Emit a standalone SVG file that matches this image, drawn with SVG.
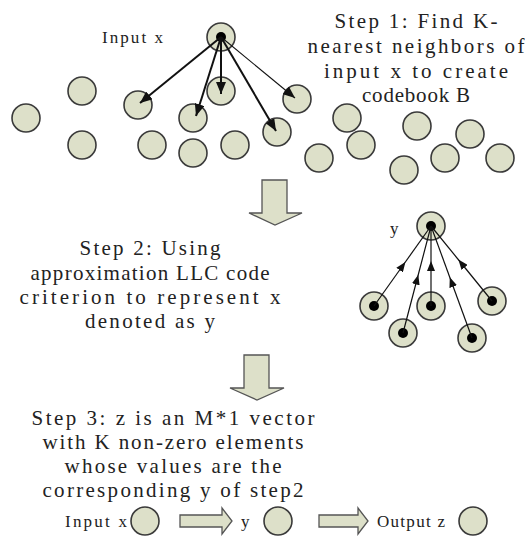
<svg xmlns="http://www.w3.org/2000/svg" width="525" height="536" viewBox="0 0 525 536">
<style>
.n{fill:#dde0c9;stroke:#3a3a3a;stroke-width:1.6}
.d{fill:#000}
.ba{fill:#dde0c9;stroke:#555;stroke-width:1.3}
.t{font-family:"Liberation Serif","DejaVu Serif",serif;font-size:21px;fill:#222}
.s{font-family:"Liberation Serif","DejaVu Serif",serif;font-size:17px;fill:#222}
.e1{stroke:#111;stroke-width:2;fill:none}
.e2{stroke:#111;stroke-width:1.1;fill:none}
.e3{stroke:#111;stroke-width:1.2;fill:none}
</style>
<defs>
<marker id="ah" markerUnits="userSpaceOnUse" markerWidth="13" markerHeight="10" refX="12" refY="5" orient="auto"><path d="M0,0 L12,5 L0,10 z" fill="#111"/></marker>
<marker id="am" markerUnits="userSpaceOnUse" markerWidth="10" markerHeight="8" refX="5" refY="4" orient="auto"><path d="M0,0 L10,4 L0,8 z" fill="#111"/></marker>
</defs>
<rect width="525" height="536" fill="#fff"/>

<g id="step1-text">
<text class="t" x="416" y="28" text-anchor="middle" textLength="163" lengthAdjust="spacing">Step 1: Find K-</text>
<text class="t" x="416" y="53" text-anchor="middle" textLength="217" lengthAdjust="spacing">nearest neighbors of</text>
<text class="t" x="416" y="78" text-anchor="middle" textLength="184" lengthAdjust="spacing">input x to create</text>
<text class="t" x="416" y="102" text-anchor="middle" textLength="108" lengthAdjust="spacing">codebook B</text>
</g>

<g id="input-x-label"><text class="s" x="102" y="43" textLength="61" lengthAdjust="spacing">Input x</text></g>

<g id="points">
<circle class="n" cx="26" cy="118" r="14"/>
<circle class="n" cx="82" cy="91" r="14"/>
<circle class="n" cx="82" cy="145" r="14"/>
<circle class="n" cx="138" cy="105" r="14"/>
<circle class="n" cx="152" cy="145" r="14"/>
<circle class="n" cx="193" cy="118" r="14"/>
<circle class="n" cx="193" cy="153" r="14"/>
<circle class="n" cx="221" cy="91" r="14"/>
<circle class="n" cx="235" cy="145" r="14"/>
<circle class="n" cx="297" cy="99" r="14"/>
<circle class="n" cx="277" cy="132" r="14"/>
<circle class="n" cx="347" cy="118" r="14"/>
<circle class="n" cx="319" cy="158" r="14"/>
<circle class="n" cx="361" cy="145" r="14"/>
<circle class="n" cx="404" cy="170" r="14"/>
<circle class="n" cx="417" cy="126" r="14"/>
<circle class="n" cx="445" cy="158" r="14"/>
<circle class="n" cx="470" cy="134" r="14"/>
<circle class="n" cx="500" cy="158" r="14"/>
</g>
<g id="input-x"><circle class="n" cx="221" cy="37" r="14"/><circle class="d" cx="221" cy="37" r="5"/></g>

<g id="knn-edges">
<line class="e1" x1="221" y1="37" x2="140" y2="103" marker-end="url(#ah)"/>
<line class="e1" x1="221" y1="37" x2="196" y2="116" marker-end="url(#ah)"/>
<line class="e1" x1="221" y1="37" x2="221" y2="94" marker-end="url(#ah)"/>
<line class="e1" x1="221" y1="37" x2="276" y2="131" marker-end="url(#ah)"/>
<line class="e2" x1="221" y1="37" x2="295" y2="98" marker-end="url(#ah)"/>
</g>

<g id="down-arrow-1"><polygon class="ba" points="262,180 287,180 287,213 302,213 275,225 249,213 262,213"/></g>

<g id="step2-text">
<text class="t" x="150" y="255" text-anchor="middle" textLength="141" lengthAdjust="spacing">Step 2: Using</text>
<text class="t" x="150" y="280" text-anchor="middle" textLength="239" lengthAdjust="spacing">approximation LLC code</text>
<text class="t" x="150" y="304" text-anchor="middle" textLength="261" lengthAdjust="spacing">criterion to represent x</text>
<text class="t" x="150" y="328" text-anchor="middle" textLength="130" lengthAdjust="spacing">denoted as y</text>
</g>

<g id="y-label"><text class="s" x="390" y="234">y</text></g>
<g id="y-node"><circle class="n" cx="431" cy="226" r="14"/><circle class="d" cx="431" cy="226" r="5"/></g>
<g id="c1"><circle class="n" cx="374" cy="306" r="14"/><circle class="d" cx="374" cy="306" r="5"/></g>
<g id="c2"><circle class="n" cx="403" cy="333" r="14"/><circle class="d" cx="403" cy="333" r="5"/></g>
<g id="c3"><circle class="n" cx="431" cy="306" r="14"/><circle class="d" cx="431" cy="306" r="5"/></g>
<g id="c4"><circle class="n" cx="472" cy="338" r="14"/><circle class="d" cx="472" cy="338" r="5"/></g>
<g id="c5"><circle class="n" cx="492" cy="301" r="14"/><circle class="d" cx="492" cy="301" r="5"/></g>

<g id="llc-edges">
<polyline class="e3" points="374,306 402.5,266 431,226" marker-mid="url(#am)"/>
<polyline class="e3" points="403,333 417,279.5 431,226" marker-mid="url(#am)"/>
<polyline class="e3" points="431,306 431,266 431,226" marker-mid="url(#am)"/>
<polyline class="e3" points="472,338 451.5,282 431,226" marker-mid="url(#am)"/>
<polyline class="e3" points="492,301 461.5,263.5 431,226" marker-mid="url(#am)"/>
</g>

<g id="down-arrow-2"><polygon class="ba" points="244,355 269,355 269,388 284,388 257,400 230,388 244,388"/></g>

<g id="step3-text">
<text class="t" x="173" y="425" text-anchor="middle" textLength="283" lengthAdjust="spacing">Step 3: z is an M*1 vector</text>
<text class="t" x="173" y="449" text-anchor="middle" textLength="261" lengthAdjust="spacing">with K non-zero elements</text>
<text class="t" x="173" y="473" text-anchor="middle" textLength="217" lengthAdjust="spacing">whose values are the</text>
<text class="t" x="173" y="497" text-anchor="middle" textLength="261" lengthAdjust="spacing">corresponding y of step2</text>
</g>

<g id="bottom-row">
<text class="s" x="65" y="527" textLength="62" lengthAdjust="spacing">Input x</text>
<circle class="n" cx="145" cy="521" r="14"/>
<polygon class="ba" points="180,515 222,515 222,508 232,521 222,534 222,527 180,527"/>
<text class="s" x="241" y="527">y</text>
<circle class="n" cx="278" cy="521" r="14"/>
<polygon class="ba" points="319,515 358,515 358,508 368,521 358,534 358,527 319,527"/>
<text class="s" x="377" y="527" textLength="68" lengthAdjust="spacing">Output z</text>
<circle class="n" cx="473" cy="521" r="14"/>
</g>
</svg>
